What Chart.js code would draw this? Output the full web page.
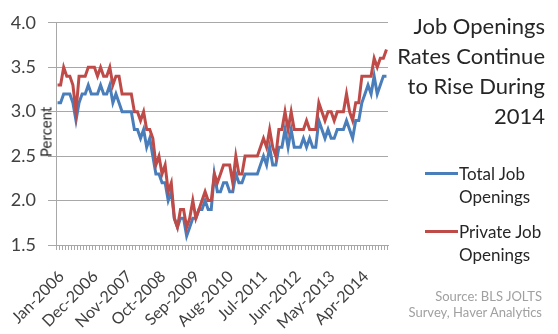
<!DOCTYPE html>
<html lang="en">
<head>
    <meta charset="UTF-8">
    <title>Job Openings Rates</title>
    <script src="https://cdn.jsdelivr.net/npm/chart.js"></script>
    <style>
        html, body { margin: 0; padding: 0; background: #fff; }
        #wrap { position: relative; width: 558px; height: 334px; font-family: Lato, "Open Sans", sans-serif; }
        #chart { position: absolute; left: 0; top: 0; }
        .title { position: absolute; right: 13px; top: 11px; text-align: right; font-size: 22px; line-height: 30px; color: #262626; }
        .legend { position: absolute; left: 425px; font-size: 17px; line-height: 23px; color: #262626; }
        .legend .swatch { position: absolute; left: 0; top: 10px; width: 33px; height: 3px; }
        .legend .txt { margin-left: 34px; }
        .source { position: absolute; right: 16px; top: 288px; text-align: right; font-size: 13px; line-height: 16px; color: #a0a0a0; }
        .ytitle { position: absolute; left: 46px; top: 132px; transform: translate(-50%, -50%) rotate(-90deg); font-size: 15px; line-height: 15px; color: #262626; white-space: nowrap; }
    </style>
</head>
<body>
<div id="wrap">
    <canvas id="chart" width="558" height="334"></canvas>
    <div class="ytitle">Percent</div>
    <div class="title">Job Openings<br>Rates Continue<br>to Rise During<br>2014</div>
    <div class="legend" style="top:162px"><div class="swatch" style="background:#4a7ebb"></div><div class="txt">Total Job<br>Openings</div></div>
    <div class="legend" style="top:220px"><div class="swatch" style="background:#be4b48"></div><div class="txt">Private Job<br>Openings</div></div>
    <div class="source">Source: BLS JOLTS<br>Survey, Haver Analytics</div>
</div>

<script>
    // Monthly categories, Jan-2006 .. Dec-2014
    const months = ['Jan','Feb','Mar','Apr','May','Jun','Jul','Aug','Sep','Oct','Nov','Dec'];
    const years = [2006, 2007, 2008, 2009, 2010, 2011, 2012, 2013, 2014];
    const categories = [];
    years.forEach(y => months.forEach(m => categories.push(m + '-' + y)));

    // labels Excel showed on the axis
    const tickLabels = ['Jan-2006','Dec-2006','Nov-2007','Oct-2008','Sep-2009',
                        'Aug-2010','Jul-2011','Jun-2012','May-2013','Apr-2014'];

    // Total job openings rate (percent)
    const totalOpenings = [
        3.1, 3.1, 3.2, 3.2, 3.2, 3.1, 2.9, 3.1, 3.2, 3.2, 3.3, 3.2,
        3.2, 3.2, 3.3, 3.2, 3.2, 3.3, 3.1, 3.2, 3.1, 3.0, 3.0, 3.0,
        3.0, 2.8, 2.8, 2.7, 2.8, 2.6, 2.7, 2.5, 2.3, 2.3, 2.2, 2.2,
        2.0, 2.1, 1.8, 1.7, 1.8, 1.8, 1.6, 1.7, 1.8, 1.8, 1.9, 1.9,
        2.0, 1.9, 1.9, 2.3, 2.1, 2.1, 2.2, 2.2, 2.1, 2.1, 2.3, 2.2,
        2.2, 2.3, 2.3, 2.3, 2.3, 2.3, 2.4, 2.5, 2.4, 2.6, 2.4, 2.4,
        2.6, 2.6, 2.8, 2.6, 2.8, 2.6, 2.6, 2.6, 2.7, 2.6, 2.7, 2.6,
        2.6, 2.9, 2.8, 2.7, 2.8, 2.7, 2.7, 2.8, 2.8, 2.8, 2.9, 2.8,
        2.7, 2.9, 2.9, 3.1, 3.2, 3.3, 3.2, 3.4, 3.2, 3.3, 3.4, 3.4
    ];

    // Private job openings rate (percent)
    const privateOpenings = [
        3.3, 3.3, 3.5, 3.4, 3.4, 3.3, 3.0, 3.4, 3.4, 3.4, 3.5, 3.5,
        3.5, 3.4, 3.5, 3.4, 3.4, 3.5, 3.3, 3.4, 3.4, 3.2, 3.2, 3.2,
        3.2, 3.0, 3.0, 2.9, 3.0, 2.8, 2.8, 2.7, 2.4, 2.5, 2.3, 2.4,
        2.1, 2.2, 1.8, 1.7, 1.9, 1.9, 1.7, 1.8, 2.0, 1.8, 1.9, 2.0,
        2.1, 2.0, 2.0, 2.3, 2.2, 2.3, 2.4, 2.4, 2.4, 2.2, 2.5, 2.3,
        2.3, 2.5, 2.5, 2.5, 2.5, 2.5, 2.6, 2.7, 2.6, 2.8, 2.6, 2.5,
        2.8, 2.8, 3.0, 2.8, 3.0, 2.8, 2.8, 2.8, 2.8, 2.9, 2.8, 2.8,
        2.8, 3.1, 3.0, 2.9, 3.0, 3.0, 2.9, 3.0, 3.0, 3.0, 3.2, 3.0,
        2.9, 3.1, 3.1, 3.4, 3.4, 3.4, 3.4, 3.6, 3.5, 3.6, 3.6, 3.7
    ];

    const gridGray = '#a8a8a8';

    const chart = new Chart(document.getElementById('chart'), {
        type: 'line',
        data: {
            labels: categories,
            datasets: [{
                label: 'Total Job Openings',
                data: totalOpenings,
                borderColor: '#4a7ebb',
                borderWidth: 3,
                pointRadius: 0,
                tension: 0,
                order: 1
            }, {
                label: 'Private Job Openings',
                data: privateOpenings,
                borderColor: '#be4b48',
                borderWidth: 3,
                pointRadius: 0,
                tension: 0,
                order: 0
            }]
        },
        options: {
            responsive: false,
            animation: false,
            layout: { padding: { top: 17, right: 170, left: 0, bottom: 0 } },
            plugins: { legend: { display: false }, tooltip: { enabled: false } },
            scales: {
                x: {
                    type: 'category',
                    offset: true,
                    afterFit: s => {
                        s.height = 89;
                        // rotated labels would otherwise push the plot to the right
                        s.paddingLeft = 0;
                        s.paddingRight = 0;
                    },
                    grid: { display: true, drawOnChartArea: false, offset: true, tickLength: 5, color: gridGray },
                    border: { display: true, color: gridGray },
                    ticks: {
                        autoSkip: false,
                        minRotation: 45,
                        maxRotation: 45,
                        padding: 17,
                        labelOffset: 4,
                        color: '#404040',
                        font: { family: 'Lato', size: 16 },
                        callback: function(v, i) {
                            const lab = categories[i];
                            return tickLabels.includes(lab) ? lab : '';
                        }
                    }
                },
                y: {
                    min: 1.5,
                    max: 4.0,
                    afterFit: s => { s.width = 56; },
                    grid: { color: gridGray, tickLength: 8 },
                    border: { display: true, color: gridGray },
                    ticks: {
                        stepSize: 0.5,
                        padding: 12,
                        color: '#404040',
                        font: { family: 'Lato', size: 18 },
                        callback: v => v.toFixed(1)
                    }
                }
            }
        }
    });
</script>
</body>
</html>
